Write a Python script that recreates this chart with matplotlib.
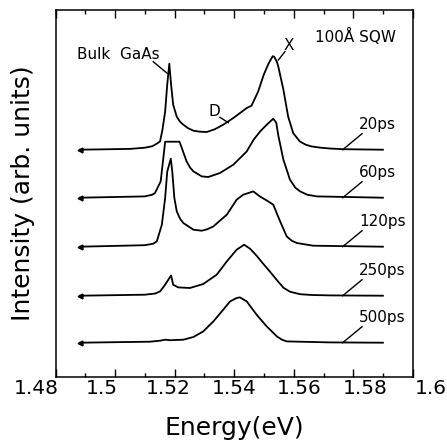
import numpy as np
import matplotlib
matplotlib.use('Agg')
import matplotlib.pyplot as plt
from matplotlib.ticker import MultipleLocator

# спектри ФЛ (енергія в eV, інтенсивність у довільних одиницях)
e_20 = [1.4882, 1.5050, 1.5100, 1.5125, 1.5140, 1.5151, 1.5159, 1.5168, 1.5175, 1.5182,
        1.5188, 1.5195, 1.5207, 1.5218, 1.5229, 1.5245, 1.5263, 1.5285, 1.5308, 1.5335,
        1.5363, 1.5397, 1.5442, 1.5458, 1.5480, 1.5499, 1.5515, 1.5529, 1.5534, 1.5543,
        1.5548, 1.5565, 1.5581, 1.5598, 1.5620, 1.5640, 1.5659, 1.5690, 1.5721, 1.5765,
        1.5899]
i_20 = [0, 0.8, 2, 3.5, 6, 8.3, 20, 38, 65, 86,
        65, 45, 33, 28, 25, 21.5, 19, 18, 17.7, 20.5,
        25, 31.7, 41.7, 44, 58, 75, 86, 93.5, 93, 88,
        83, 60, 33, 16.5, 8.3, 5, 3.3, 2, 1.2, 0.5,
        0]

e_60 = [1.4882, 1.5100, 1.5125, 1.5134, 1.5153, 1.5162, 1.5168, 1.5216, 1.5220, 1.5240,
        1.5252, 1.5263, 1.5291, 1.5313, 1.5352, 1.5397, 1.5442, 1.5465, 1.5487, 1.5509,
        1.5531, 1.5541, 1.5548, 1.5565, 1.5587, 1.5605, 1.5621, 1.5645, 1.5677, 1.5899]
i_60 = [0, 1.3, 3, 4.7, 16.3, 39.7, 56, 56, 53, 36.3,
        30, 26.3, 21.3, 20.7, 24.7, 33, 46.3, 58, 66.3, 73,
        79, 75, 62, 38, 18, 10, 6.3, 3, 1.3, 0]

e_120 = [1.4882, 1.5100, 1.5128, 1.5140, 1.5157, 1.5168, 1.5175, 1.5187, 1.5192, 1.5199,
         1.5207, 1.5218, 1.5229, 1.5263, 1.5291, 1.5310, 1.5330, 1.5375, 1.5408, 1.5430,
         1.5464, 1.5486, 1.5514, 1.5531, 1.5554, 1.5576, 1.5593, 1.5610, 1.5665, 1.5899]
i_120 = [0, 1.5, 3, 5.3, 22, 48.7, 75, 88, 75, 48.7,
         35.3, 28, 23.7, 17, 16, 17.5, 20.3, 32, 47, 52,
         55.3, 50.3, 45.3, 42, 25.3, 10.3, 6, 3.7, 1, 0]

e_250 = [1.4882, 1.5100, 1.5135, 1.5151, 1.5168, 1.5188, 1.5195, 1.5212, 1.5251, 1.5296,
         1.5341, 1.5375, 1.5408, 1.5433, 1.5453, 1.5475, 1.5497, 1.5520, 1.5542, 1.5565,
         1.5587, 1.5621, 1.5660, 1.5721, 1.5899]
i_250 = [0, 1, 2.2, 4.3, 11, 20.3, 11, 8.3, 7.7, 11.7,
         21, 34.3, 46, 51, 47, 40, 32, 24, 16, 8,
         4, 1.5, 0.7, 0.3, 0]

e_500 = [1.4882, 1.5117, 1.5151, 1.5168, 1.5185, 1.5229, 1.5263, 1.5296, 1.5330, 1.5363,
         1.5386, 1.5408, 1.5419, 1.5442, 1.5475, 1.5509, 1.5543, 1.5560, 1.5576, 1.5721,
         1.5899]
i_500 = [0, 1, 2, 3, 2.5, 3, 5.7, 11.3, 21.3, 33,
         41.3, 44.7, 45.3, 41.3, 28, 16.3, 6.3, 3, 1.3, 0.3,
         0]

energies = [e_20, e_60, e_120, e_250, e_500]
intensities = [i_20, i_60, i_120, i_250, i_500]
delays = ['20ps', '60ps', '120ps', '250ps', '500ps']
offsets = [227, 179, 130, 81, 34]

xticks = [1.48, 1.5, 1.52, 1.54, 1.56, 1.58, 1.6]
xtick_labels = ['1.48', '1.5', '1.52', '1.54', '1.56', '1.58', '1.6']

W, H = 447, 443
fig = plt.figure(figsize=(W / 100, H / 100), dpi=100)
ax = fig.add_axes([55.5 / W, (H - 376.7) / H, 357.5 / W, 366.7 / H])

for e, inten, off, lab in zip(energies, intensities, offsets, delays):
    ax.plot(e, np.array(inten) + off, color='black', lw=1.3)
    ax.plot(e[0], off, marker='<', ms=3.5, color='black')
    # виноска з підписом затримки
    ax.plot([1.5764, 1.5829], [off, off + 16], color='black', lw=1.0)
    ax.text(1.5819, off + 20.5, lab, fontsize=11, va='baseline', ha='left')

# підписи особливостей спектра
ax.text(1.4871, 317.4, 'Bulk  GaAs', fontsize=11, va='baseline')
ax.plot([1.5128, 1.5175], [315, 303.4], color='black', lw=1.0)
ax.text(1.5312, 260.7, 'D', fontsize=11, va='baseline')
ax.plot([1.5352, 1.5380], [259.4, 254], color='black', lw=1.0)
ax.text(1.5564, 326.7, 'X', fontsize=11, va='baseline')
ax.plot([1.5570, 1.5548], [325, 316.7], color='black', lw=1.0)
ax.text(1.5671, 335, '100Å SQW', fontsize=11, va='baseline')

ax.set_xlim(1.48, 1.6)
ax.set_ylim(0, 366.7)
ax.set_yticks([])
ax.xaxis.set_major_locator(MultipleLocator(0.02))
ax.xaxis.set_minor_locator(MultipleLocator(0.01))
ax.tick_params(axis='x', which='both', direction='in', top=True, labelbottom=False)
ax.tick_params(axis='x', which='major', length=5.5, width=1.0)
ax.tick_params(axis='x', which='minor', length=2.8, width=1.0)
for s in ax.spines.values():
    s.set_linewidth(1.1)
ax.set_ylabel('Intensity (arb. units)', fontsize=18, labelpad=15)

# підписи шкали енергії
ax_lab = fig.add_axes([36.4 / W, (H - 376.7) / H, 394.8 / W, 0.001])
ax_lab.set_xlim(1.48, 1.6)
ax_lab.set_xticks(xticks)
ax_lab.set_xticklabels(xtick_labels, fontsize=14.5)
ax_lab.set_yticks([])
ax_lab.tick_params(axis='x', length=0, pad=2)
ax_lab.patch.set_visible(False)
for s in ax_lab.spines.values():
    s.set_visible(False)

fig.text(234 / W, (H - 435) / H, 'Energy(eV)', fontsize=18, ha='center', va='baseline')

fig.savefig('out.png', dpi=100)
